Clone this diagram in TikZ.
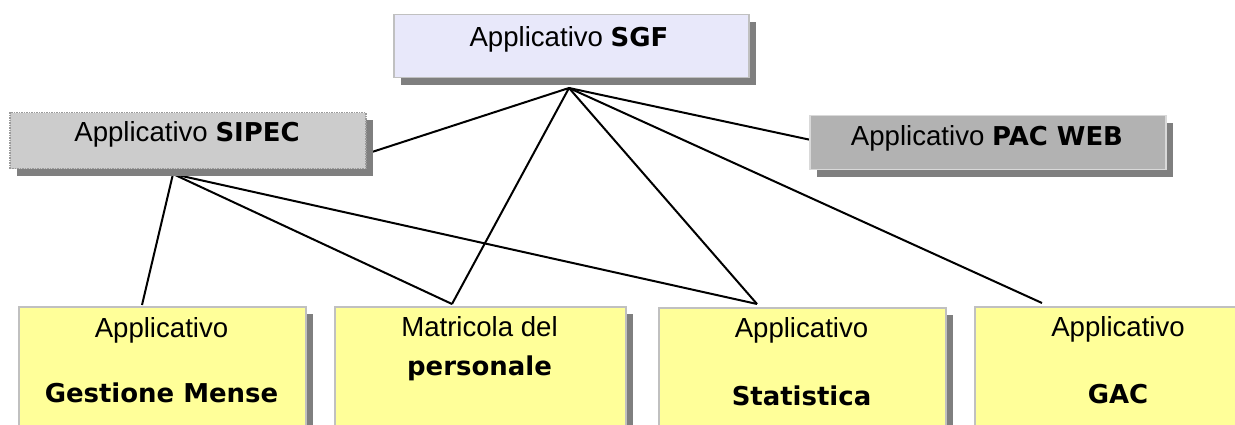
\documentclass[tikz,border=0pt]{standalone}
\usepackage{fontspec}
\setmainfont{Liberation Sans}
\newfontfamily\bfam[Scale=0.94]{DejaVu Sans}
\usetikzlibrary{shadows}
\definecolor{sgffill}{HTML}{E8E8FA}
\definecolor{sipfill}{HTML}{CCCCCC}
\definecolor{pacfill}{HTML}{B2B2B2}
\definecolor{yel}{HTML}{FFFF99}
\definecolor{edge}{HTML}{C0C0C0}
\definecolor{shade}{HTML}{7F7F7F}
\newcommand{\bt}[1]{{\bfam\bfseries #1}}
\tikzset{
  boxshape/.style={draw=edge, line width=1.5pt, inner sep=0pt,
    drop shadow={shadow xshift=7pt, shadow yshift=-7pt, fill=shade, opacity=1}},
  sgfbox/.style={boxshape, fill=sgffill},
  sipbox/.style={boxshape, fill=sipfill, draw=edge!80!black, densely dotted},
  pacbox/.style={boxshape, fill=pacfill, draw=edge!60!white},
  yelbox/.style={boxshape, fill=yel},
  lbl/.style={inner sep=0pt, anchor=base, font=\fontsize{27.6}{32}\selectfont},
  conn/.style={line width=2pt, black}
}
\begin{document}
\begin{tikzpicture}[x=1pt,y=-1pt]
\useasboundingbox (0,0) rectangle (1235,425);
\clip (0,0) rectangle (1235,425);
% connector endpoints
\coordinate (sgfA) at (569,88);
\coordinate (sipA) at (173,174);
\coordinate (sipR) at (372,152);
\coordinate (pacL) at (811,140);
\coordinate (gmT) at (142,305);
\coordinate (matT) at (452,304);
\coordinate (statT) at (757,304);
\coordinate (gacT) at (1042,303);
% connectors
\draw[conn] (sgfA) -- (sipR);
\draw[conn] (sgfA) -- (pacL);
\draw[conn] (sgfA) -- (matT);
\draw[conn] (sgfA) -- (statT);
\draw[conn] (sgfA) -- (gacT);
\draw[conn] (sipA) -- (gmT);
\draw[conn] (sipA) -- (matT);
\draw[conn] (sipA) -- (statT);
% boxes
\node[sgfbox, minimum width=355pt, minimum height=63pt, anchor=north west] (sgf) at (393,14) {};
\node[sipbox, minimum width=356pt, minimum height=56pt, anchor=north west] (sip) at (9,112) {};
\node[pacbox, minimum width=356pt, minimum height=54pt, anchor=north west] (pac) at (809,115) {};
\node[yelbox, minimum width=287pt, minimum height=140pt, anchor=north west] (gm) at (18,306) {};
\node[yelbox, minimum width=291pt, minimum height=140pt, anchor=north west] (mat) at (334,306) {};
\node[yelbox, minimum width=287pt, minimum height=140pt, anchor=north west] (stat) at (658,307) {};
\node[yelbox, minimum width=288pt, minimum height=140pt, anchor=north west] (gac) at (974,306) {};
% labels
\node[lbl] (tsgf) at (569,46.7) {Applicativo \bt{SGF}};
\node[lbl] (tsip) at (187,142) {Applicativo \bt{SIPEC}};
\node[lbl] (tpac) at (987,146) {Applicativo \bt{PAC WEB}};
\node[lbl] (tgm1) at (161.5,337) {Applicativo};
\node[lbl] (tgm2) at (161.5,402) {\bt{Gestione Mense}};
\node[lbl] (tmat1) at (479.5,336) {Matricola del};
\node[lbl] (tmat2) at (479.5,375) {\bt{personale}};
\node[lbl] (tst1) at (801.5,337) {Applicativo};
\node[lbl] (tst2) at (801.5,405) {\bt{Statistica}};
\node[lbl] (tgac1) at (1118,336) {Applicativo};
\node[lbl] (tgac2) at (1118,403) {\bt{GAC}};
\end{tikzpicture}
\end{document}
